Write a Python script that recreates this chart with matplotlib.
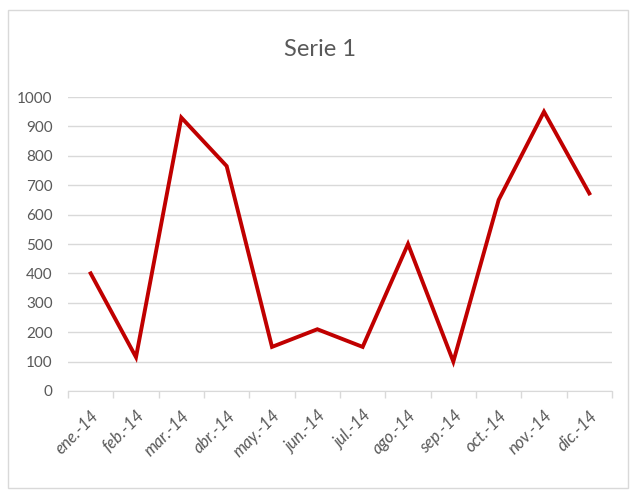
import numpy as np
import matplotlib
matplotlib.use('Agg')
import matplotlib.pyplot as plt
from matplotlib.patches import Rectangle

plt.rcParams['font.family'] = ['Lato', 'DejaVu Sans']

meses = ['ene.-14', 'feb.-14', 'mar.-14', 'abr.-14', 'may.-14', 'jun.-14',
         'jul.-14', 'ago.-14', 'sep.-14', 'oct.-14', 'nov.-14', 'dic.-14']
valores = [400, 115, 930, 765, 150, 210, 150, 500, 100, 650, 950, 672]
yticks = list(range(0, 1001, 100))

gris_txt = '#595959'
gris_lin = '#D9D9D9'

fig = plt.figure(figsize=(6.4, 5), dpi=100)
ax = fig.add_axes([68/640, 1-391/500, (612-68)/640, (391-97)/500])

x = np.arange(len(meses))
ax.plot(x, valores, color='#C00000', linewidth=2.8, solid_joinstyle='miter')

ax.set_xlim(-0.5, len(meses) - 0.5)
ax.set_ylim(0, 1000)
ax.set_yticks(yticks)
ax.set_yticklabels([str(v) for v in yticks], fontsize=11, color=gris_txt)
ax.yaxis.grid(True, color=gris_lin, linewidth=1)
ax.set_axisbelow(True)

ax.set_xticks(x)
ax.set_xticklabels(meses, rotation=45, ha='right', va='top', rotation_mode='anchor',
                   fontsize=12, color=gris_txt, style='italic')
ax.set_xticks(np.arange(-0.5, len(meses)), minor=True)
ax.tick_params(axis='x', which='major', length=0, pad=12)
ax.tick_params(axis='x', which='minor', length=5, color=gris_lin, width=1)
ax.tick_params(axis='y', length=0, pad=11)

for s in ['top', 'right', 'left']:
    ax.spines[s].set_visible(False)
ax.spines['bottom'].set_color(gris_lin)

fig.text(0.5, 1-50/500, 'Serie 1', ha='center', va='center', fontsize=17, color=gris_txt)

fig.patches.append(Rectangle((8/640, 1-488/500), 620/640, 478/500, transform=fig.transFigure,
                             fill=False, edgecolor=gris_lin, linewidth=1))

fig.savefig('out.png', dpi=100)
